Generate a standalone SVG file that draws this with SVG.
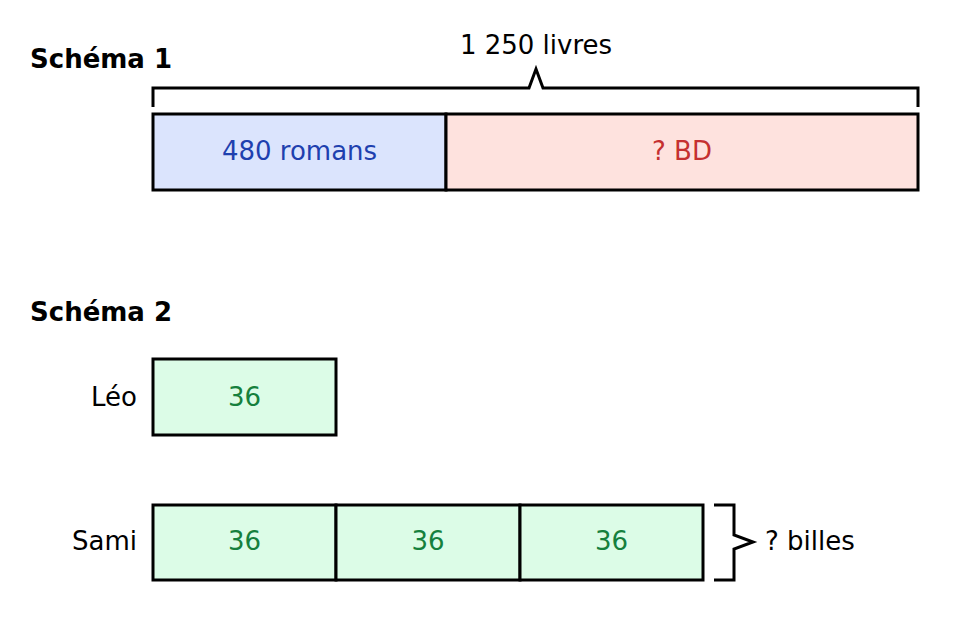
<svg xmlns="http://www.w3.org/2000/svg" width="978" height="619" viewBox="0 0 978 619">
<style>
text{font-family:"DejaVu Sans",sans-serif;font-size:26px}
.h{font-weight:bold}
.bar{stroke:#000;stroke-width:3}
.g{fill:#dcfce7}
.gt{fill:#15803d;text-anchor:middle}
.br{fill:none;stroke:#000;stroke-width:3}
</style>
<rect width="978" height="619" fill="#fff"/>
<text class="h" x="30" y="68">Schéma 1</text>
<text class="h" x="30" y="321">Schéma 2</text>
<g id="connectors">
<path class="br" d="M153,107 V88 H529 L536,69 L543,88 H918 V107"/>
<path class="br" d="M714,505 H734 V535 L753,542 L734,549 V580 H714"/>
</g>
<text x="536" y="54" text-anchor="middle">1 250 livres</text>
<g id="romans"><rect class="bar" x="153" y="114" width="293" height="76" fill="#dbe4fd"/><text x="299.5" y="160" text-anchor="middle" fill="#1e40af">480 romans</text></g>
<g id="bd"><rect class="bar" x="446" y="114" width="472" height="76" fill="#fee2de"/><text x="682" y="160" text-anchor="middle" fill="#c53030">? BD</text></g>
<g id="leo"><text x="137" y="406" text-anchor="end">Léo</text><rect class="bar g" x="153" y="359" width="183" height="76"/><text class="gt" x="244.5" y="406">36</text></g>
<g id="sami"><text x="137" y="550" text-anchor="end">Sami</text>
<rect class="bar g" x="153" y="505" width="183" height="75"/><text class="gt" x="244.5" y="550">36</text>
<rect class="bar g" x="336" y="505" width="184" height="75"/><text class="gt" x="428" y="550">36</text>
<rect class="bar g" x="520" y="505" width="183" height="75"/><text class="gt" x="611.5" y="550">36</text></g>
<text x="765" y="550">? billes</text>
</svg>
